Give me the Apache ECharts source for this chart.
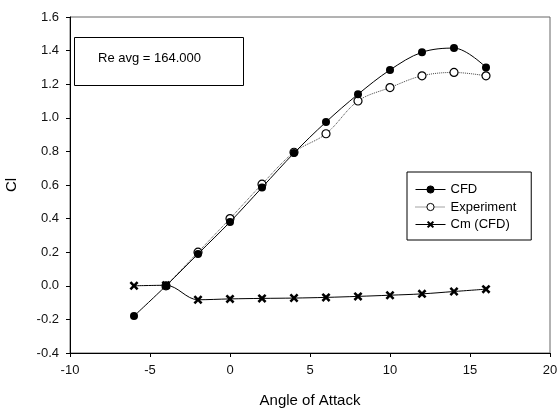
<!DOCTYPE html>
<html>
<head>
<meta charset="utf-8">
<script src="https://cdn.jsdelivr.net/npm/echarts@6/dist/echarts.min.js"></script>
<style>html,body{margin:0;padding:0;background:#fff}#c{width:560px;height:410px}</style>
</head>
<body>
<div id="c"></div>
<script>
const angles = [-6, -4, -2, 0, 2, 4, 6, 8, 10, 12, 14, 16];
const clCFD = [-0.18, 0.0, 0.19, 0.38, 0.585, 0.79, 0.975, 1.14, 1.285, 1.39, 1.415, 1.30];
const expAngles = [-4, -2, 0, 2, 4, 6, 8, 10, 12, 14, 16];
const clExp = [0.0, 0.20, 0.40, 0.605, 0.795, 0.905, 1.10, 1.18, 1.25, 1.27, 1.25];
const cmCFD = [0.0, 0.003, -0.083, -0.078, -0.075, -0.073, -0.069, -0.063, -0.056, -0.048, -0.034, -0.02];
const xTicks = [-10, -5, 0, 5, 10, 15, 20];
const yTicks = [-0.4, -0.2, 0.0, 0.2, 0.4, 0.6, 0.8, 1.0, 1.2, 1.4, 1.6];
const seriesNames = ['CFD', 'Experiment', 'Cm (CFD)'];
const noteText = 'Re avg = 164.000';

const font = 'Liberation Sans, Arial, sans-serif';
const crossPath = 'path://M0,2 L2,0 L5,3 L8,0 L10,2 L7,5 L10,8 L8,10 L5,7 L2,10 L0,8 L3,5 Z';

const chart = echarts.init(document.getElementById('c'), null, {renderer: 'canvas'});
chart.setOption({
  animation: false,
  backgroundColor: '#fff',
  textStyle: {fontFamily: font},
  grid: {left: 70, top: 17, right: 10, bottom: 57, show: true, borderColor: '#666', borderWidth: 1,
         backgroundColor: 'transparent', containLabel: false, outerBoundsMode: 'none'},
  xAxis: {
    type: 'value', min: xTicks[0], max: xTicks[xTicks.length - 1], interval: 5,
    name: 'Angle of Attack', nameLocation: 'middle', nameGap: 40,
    nameTextStyle: {fontSize: 15, color: '#000', fontFamily: font},
    axisLine: {show: true, onZero: false, lineStyle: {color: '#000', width: 1}},
    axisTick: {show: true, inside: false, length: 4, lineStyle: {color: '#000'}},
    axisLabel: {fontSize: 13, color: '#111', margin: 11, fontFamily: font},
    splitLine: {show: false}
  },
  yAxis: {
    type: 'value', min: yTicks[0], max: yTicks[yTicks.length - 1], interval: 0.2,
    name: 'Cl', nameLocation: 'middle', nameGap: 51, nameRotate: 90,
    nameTextStyle: {fontSize: 15, color: '#000', fontFamily: font},
    axisLine: {show: true, onZero: false, lineStyle: {color: '#000', width: 1}},
    axisTick: {show: true, inside: false, length: 4, lineStyle: {color: '#000'}},
    axisLabel: {fontSize: 13, color: '#111', margin: 11, fontFamily: font,
      formatter: v => (Math.abs(v) < 1e-9 ? 0 : v).toFixed(1)},
    splitLine: {show: false}
  },
  legend: {
    orient: 'vertical', left: 407, top: 172,
    padding: [11, 15, 9, 8], itemGap: 4.5, itemWidth: 30, itemHeight: 9,
    borderColor: '#000', borderWidth: 1, backgroundColor: '#fff',
    lineStyle: {width: 1},
    itemStyle: {borderWidth: 1},
    textStyle: {fontSize: 13, color: '#000', fontFamily: font},
    data: seriesNames
  },
  series: [
    {
      name: seriesNames[1], type: 'line', smooth: 0.35,
      data: expAngles.map((a, i) => [a, clExp[i]]),
      symbol: 'circle', symbolSize: 8,
      lineStyle: {color: '#444', width: 1, type: 'dotted'},
      itemStyle: {color: '#fff', borderColor: '#000', borderWidth: 1.2},
      z: 2
    },
    {
      name: seriesNames[0], type: 'line', smooth: 0.35,
      data: angles.map((a, i) => [a, clCFD[i]]),
      symbol: 'circle', symbolSize: 8,
      lineStyle: {color: '#000', width: 1},
      itemStyle: {color: '#000', borderColor: '#000', borderWidth: 0},
      z: 3
    },
    {
      name: seriesNames[2], type: 'line', smooth: 0.35,
      data: angles.map((a, i) => [a, cmCFD[i]]),
      symbol: crossPath, symbolSize: 9,
      lineStyle: {color: '#000', width: 1},
      itemStyle: {color: '#000', borderWidth: 0},
      z: 4
    }
  ],
  graphic: [
    {type: 'rect', left: 74, top: 37, shape: {width: 169, height: 48},
     style: {fill: '#fff', stroke: '#000', lineWidth: 1}, z: 10},
    {type: 'text', x: 98, y: 58.5, style: {text: noteText, fill: '#000', font: '13px Liberation Sans, Arial, sans-serif', verticalAlign: 'middle'}, z: 11}
  ]
});
</script>
</body>
</html>
